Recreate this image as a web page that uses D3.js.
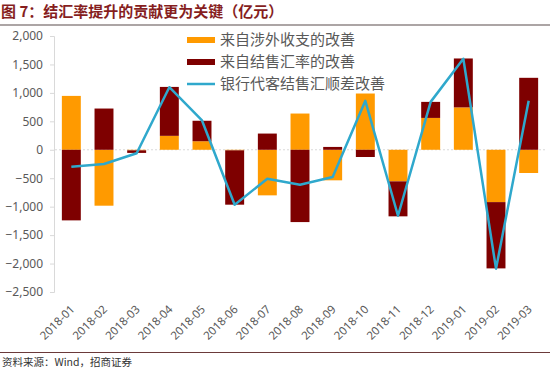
<!DOCTYPE html>
<html>
<head>
<meta charset="utf-8">
<script src="https://cdn.jsdelivr.net/npm/d3@7"></script>
<style>
  body { margin: 0; background: #fff; }
  svg { display: block; }
</style>
</head>
<body>
<div id="chart"></div>
<script>
// mois affichés sur l'axe x
const months = ["2018-01","2018-02","2018-03","2018-04","2018-05","2018-06","2018-07","2018-08",
  "2018-09","2018-10","2018-11","2018-12","2019-01","2019-02","2019-03"];
// 来自涉外收支的改善 (orange)
const fromBalance = [947, -983, -10, 245, 150, -10, -801, 637, -537, 989, -555, 560, 745, -920, -408];
// 来自结售汇率的改善 (rouge foncé)
const fromRate = [-1241, 725, -45, 860, 360, -955, 285, -1271, 50, -127, -615, 282, 860, -1165, 1265];
// 银行代客结售汇顺差改善 (ligne)
const netSurplus = [-300, -250, -60, 1100, 515, -965, -510, -615, -480, 860, -1160, 842, 1600, -2090, 860];
const yTicks = [2000, 1500, 1000, 500, 0, -500, -1000, -1500, -2000, -2500];
const legendLabels = ["来自涉外收支的改善", "来自结售汇率的改善", "银行代客结售汇顺差改善"];

const colors = { balance: "#FF9A00", rate: "#7E0000", line: "#2FA8CC" };
const W = 550, H = 372;

function drawChart()
{
    let svg = d3.select("#chart").append("svg")
    .attr("width", W)
    .attr("height", H)
    .style("font-family", "'Noto Sans CJK SC', 'Noto Sans', sans-serif");

    svg.append("rect").attr("width", W).attr("height", H).attr("fill", "#fff");

    // titre + trait
    svg.append("text")
    .attr("x", 1)
    .attr("y", 17)
    .text("图 7：结汇率提升的贡献更为关键（亿元）")
    .style("font-size", "15px")
    .style("font-weight", "bold")
    .attr("fill", "#861E1E");
    svg.append("line").attr("x1", 0).attr("x2", W).attr("y1", 25).attr("y2", 25)
    .attr("stroke", "#5a4d4d").attr("stroke-width", 1.2);

    let x = d3.scaleBand()
    .domain(months)
    .range([55, 545])
    .paddingInner(0.42)
    .paddingOuter(0.21);
    let y = d3.scaleLinear()
    .domain([-2500, 2000])
    .range([292, 36]);

    // axe y
    let yAxis = svg.append("g")
    .attr("transform", "translate(54,0)")
    .call(d3.axisLeft(y).tickValues(yTicks).tickSize(4).tickPadding(7).tickFormat(d3.format(",")));
    yAxis.select(".domain").attr("stroke", "#d9d9d9");
    yAxis.selectAll(".tick line").attr("stroke", "#d9d9d9");
    yAxis.selectAll("text")
    .attr("fill", "#595959")
    .style("font-size", "12px")
    .style("font-family", "'Noto Sans', sans-serif");

    // ligne zéro pointillée
    svg.append("line")
    .attr("x1", 55).attr("x2", 545)
    .attr("y1", y(0)).attr("y2", y(0))
    .attr("stroke", "#d9d9d9")
    .attr("stroke-dasharray", "2,2");

    // barres empilées
    let rows = months.map((m, i) => ({ month: m, balance: fromBalance[i], rate: fromRate[i] }));
    let series = d3.stack().keys(["balance", "rate"]).offset(d3.stackOffsetDiverging)(rows);

    svg.append("g").selectAll("g")
    .data(series)
    .enter()
    .append("g")
    .attr("fill", d => colors[d.key])
    .selectAll("rect")
    .data(d => d)
    .enter()
    .append("rect")
    .attr("x", d => x(d.data.month))
    .attr("width", x.bandwidth())
    .attr("y", d => y(Math.max(d[0], d[1])))
    .attr("height", d => Math.abs(y(d[0]) - y(d[1])));

    // ligne
    let lineGenerator = d3.line()
    .x((d, i) => x(months[i]) + x.bandwidth() / 2)
    .y(d => y(d));

    svg.append("path")
    .datum(netSurplus)
    .attr("fill", "none")
    .attr("stroke", colors.line)
    .attr("stroke-width", 2.5)
    .attr("stroke-linejoin", "round")
    .attr("d", lineGenerator);

    // étiquettes x
    svg.append("g").selectAll("text")
    .data(months)
    .enter()
    .append("text")
    .attr("text-anchor", "end")
    .attr("transform", d => "translate(" + (x(d) + x.bandwidth() / 2 + 4) + ",310) rotate(-45)")
    .text(d => d)
    .attr("fill", "#595959")
    .style("font-size", "11.5px")
    .style("font-family", "'Noto Sans', sans-serif");

    // légende
    let legend = svg.append("g").attr("transform", "translate(187,40)");
    legendLabels.forEach((label, i) => {
        let row = legend.append("g").attr("transform", "translate(0," + (i * 22) + ")");
        if (i < 2) {
            row.append("rect").attr("y", -3).attr("width", 28).attr("height", 6)
            .attr("fill", i == 0 ? colors.balance : colors.rate);
        } else {
            row.append("line").attr("x1", 0).attr("x2", 28)
            .attr("stroke", colors.line).attr("stroke-width", 2.5);
        }
        row.append("text")
        .attr("x", 33)
        .attr("dy", "0.35em")
        .text(label)
        .attr("fill", "#595959")
        .style("font-size", "15px");
    });

    // source
    svg.append("line").attr("x1", 0).attr("x2", W).attr("y1", 352.5).attr("y2", 352.5)
    .attr("stroke", "#6b3a3a").attr("stroke-width", 1.2);
    svg.append("text")
    .attr("x", 2)
    .attr("y", 366)
    .text("资料来源：Wind，招商证券")
    .attr("fill", "#333")
    .style("font-size", "10.5px");
}

drawChart();
</script>
</body>
</html>
